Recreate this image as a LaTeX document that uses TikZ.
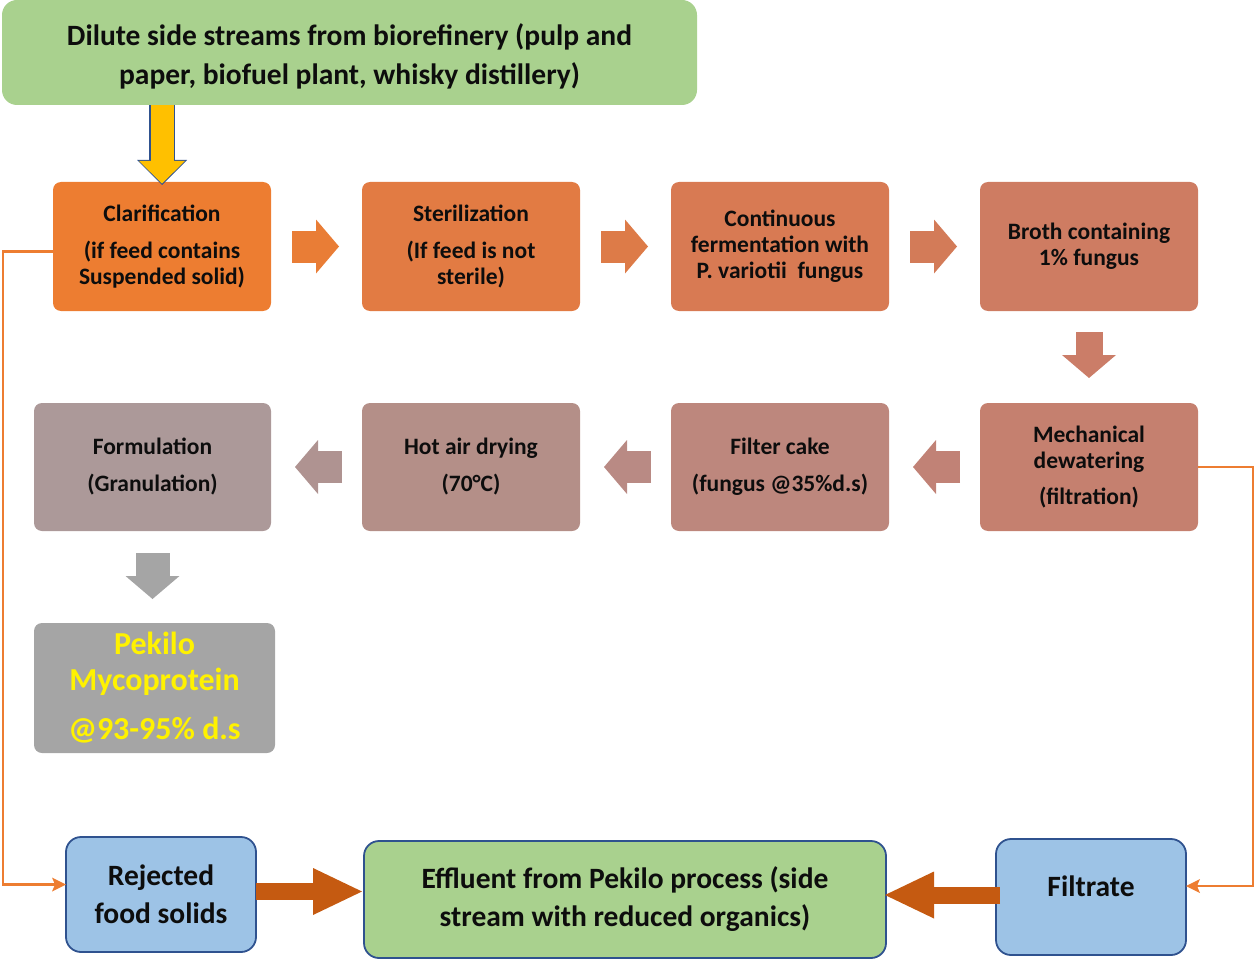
\documentclass[tikz,border=0pt]{standalone}
\usepackage{fontspec}
\setmainfont{Carlito}
\usetikzlibrary{arrows.meta,calc,positioning}
\definecolor{leafgreen}{HTML}{A9D18E}
\definecolor{skyblue}{HTML}{9DC3E6}
\definecolor{edgeblue}{HTML}{2F528F}
\definecolor{amber}{HTML}{FFC000}
\definecolor{rust}{HTML}{C55A11}
\definecolor{recycleorange}{HTML}{ED7D31}
\definecolor{inktext}{HTML}{0D0D0D}
\definecolor{ashgray}{HTML}{A5A5A5}
% shades of the process boxes, light orange to greyish pink
\definecolor{shadeA}{HTML}{ED7D31}
\definecolor{shadeB}{HTML}{E27B43}
\definecolor{shadeC}{HTML}{D87A53}
\definecolor{shadeD}{HTML}{CE7C62}
\definecolor{shadeE}{HTML}{C5806F}
\definecolor{shadeF}{HTML}{BD877D}
\definecolor{shadeG}{HTML}{B48F88}
\definecolor{shadeH}{HTML}{AC9999}
\definecolor{arrowA}{HTML}{E97D36}
\definecolor{arrowB}{HTML}{DD7B48}
\definecolor{arrowC}{HTML}{D37B58}
\definecolor{arrowD}{HTML}{CB7D68}
\definecolor{arrowE}{HTML}{C18276}
\definecolor{arrowF}{HTML}{B98A84}
\definecolor{arrowG}{HTML}{AF9391}
\tikzset{
	process flow/.style={
		x=1pt, y=-1pt,
		every node/.style={inner sep=0pt, outer sep=0pt, align=center, text=inktext}
		},
	stage/.style={fill=#1, rounded corners=8pt,
		minimum width=218pt, minimum height=129pt,
		font=\fontsize{23.5}{26}\selectfont\bfseries},
	stream/.style={fill=#1, draw=edgeblue, line width=1.8pt, rounded corners=15pt,
		font=\fontsize{29.5}{38}\selectfont\bfseries},
	big text/.style={font=\fontsize{29.5}{39}\selectfont\bfseries},
	stagearrow/.style={draw=#1, line width=32pt,
		-{Triangle[length=23pt,width=54pt,line width=0pt]}},
	outflow/.style={draw=rust, line width=17pt,
		-{Triangle[length=49pt,width=47pt,line width=0pt]}},
	recycle/.style={draw=recycleorange, line width=2.8pt,
		-{Stealth[length=14pt,width=14pt,inset=3pt,line width=0pt]}}
}
\begin{document}
\begin{tikzpicture}[process flow]
   \useasboundingbox (0,0) rectangle (1255,960);
   \node[fill=leafgreen, rounded corners=15pt, minimum width=695pt, minimum height=105pt,
         label={[big text, yshift=-4pt]center:{Dilute side streams from biorefinery (pulp and\\paper, biofuel plant, whisky distillery)}}]
         (feed) at (349.5,52.5) {};
   % first row
   \node[stage=shadeA] (clar) at (162,246.5) {Clarification\\[11pt](if feed contains\\Suspended solid)};
   \node[stage=shadeB] (ster) at (471,246.5) {Sterilization\\[11pt](If feed is not\\sterile)};
   \node[stage=shadeC] (ferm) at (780,246.5) {Continuous\\fermentation with\\P. variotii\ \ fungus};
   \node[stage=shadeD] (broth) at (1089,246.5) {Broth containing\\1\% fungus};
   % second row
   \node[stage=shadeE, minimum height=128pt] (mech) at (1089,467) {Mechanical\\dewatering\\[10pt](filtration)};
   \node[stage=shadeF, minimum height=128pt] (cake) at (780,467) {Filter cake\\[11pt](fungus @35\%d.s)};
   \node[stage=shadeG, minimum height=128pt] (dry) at (471,467) {Hot air drying\\[11pt](70°C)};
   \node[stage=shadeH, minimum height=128pt, minimum width=237pt] (gran) at (152.5,467) {Formulation\\[11pt](Granulation)};
   \node[fill=ashgray, rounded corners=8pt, minimum width=241pt, minimum height=130pt,
         text=yellow, font=\fontsize{32}{36}\selectfont\bfseries] (pekilo) at (154.5,688)
         {Pekilo\\Mycoprotein\\[13pt]@93-95\% d.s};
   % bottom row
   \node[stream=skyblue, minimum width=190pt, minimum height=115pt] (reject) at (161,894.5) {Rejected\\food solids};
   \node[stream=leafgreen, minimum width=522pt, minimum height=117pt] (effluent) at (625,899.5)
         {Effluent from Pekilo process (side\\stream with reduced organics)};
   \node[stream=skyblue, minimum width=190pt, minimum height=116pt,
         label={[big text, yshift=11pt]center:Filtrate}] (filtrate) at (1091,897) {};

   \draw[edgeblue, line width=25.6pt, -{Triangle[length=25pt,width=50pt,line width=0pt]}, shorten >=-3pt]
      (feed.south -| clar.north) -- (clar.north);
   \draw[amber, line width=23pt, -{Triangle[length=22.5pt,width=46pt,line width=0pt]}, shorten >=-1.5pt]
      (feed.south -| clar.north) -- (clar.north);
   \draw[stagearrow=arrowA, shorten <=21pt, shorten >=23pt] (clar) -- (ster);
   \draw[stagearrow=arrowB, shorten <=21pt, shorten >=23pt] (ster) -- (ferm);
   \draw[stagearrow=arrowC, shorten <=21pt, shorten >=23pt] (ferm) -- (broth);
   \draw[stagearrow=arrowD, line width=27pt, shorten <=21pt, shorten >=25pt] (broth) -- (mech);
   \draw[stagearrow=arrowE, shorten <=20pt, shorten >=24pt] (mech) -- (cake);
   \draw[stagearrow=arrowF, shorten <=20pt, shorten >=24pt] (cake) -- (dry);
   \draw[stagearrow=arrowG, shorten <=20pt, shorten >=24pt] (dry) -- (gran);
   \draw[stagearrow=ashgray, line width=34pt, shorten <=22pt, shorten >=24pt]
      (gran.south) -- (gran.south |- pekilo.north);
   \draw[outflow, shorten >=2pt] ([yshift=3pt]reject.east) -- ([yshift=3pt]reject.east -| effluent.west);
   \draw[outflow, shorten <=-4pt, shorten >=-1pt] ([yshift=2pt]filtrate.west) -- ([yshift=2pt]filtrate.west -| effluent.east);
   \draw[recycle] ([yshift=-5pt]clar.west) -- ++(-50,0) |- ([yshift=10pt]reject.west);
   \draw[recycle] (mech.east) -- ++(55,0) |- ([yshift=11pt]filtrate.east);
\end{tikzpicture}
\end{document}
